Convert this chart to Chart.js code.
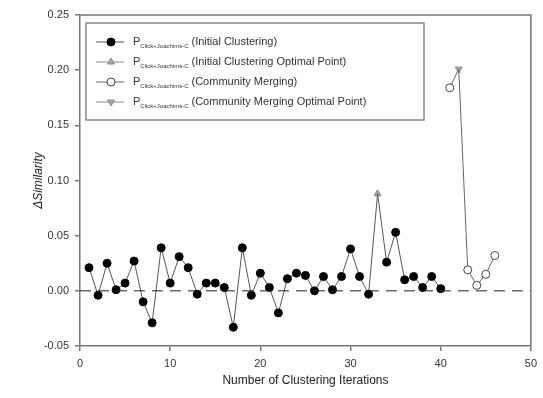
<!DOCTYPE html>
<html>
<head>
<meta charset="utf-8">
<script src="https://cdn.jsdelivr.net/npm/chart.js@4"></script>
<style>
  html, body { margin: 0; padding: 0; background: #fff; }
  #wrap { width: 543px; height: 398px; position: relative; }
</style>
</head>
<body>
<div id="wrap"><canvas id="simChart"></canvas></div>
<script>
// Data
const iterInitial = [1, 2, 3, 4, 5, 6, 7, 8, 9, 10, 11, 12, 13, 14, 15, 16, 17, 18, 19, 20,
                     21, 22, 23, 24, 25, 26, 27, 28, 29, 30, 31, 32, 33, 34, 35, 36, 37, 38, 39, 40];
const simInitial = [0.021, -0.004, 0.025, 0.001, 0.007, 0.027, -0.010, -0.029, 0.039, 0.007,
                    0.031, 0.021, -0.003, 0.007, 0.007, 0.003, -0.033, 0.039, -0.004, 0.016,
                    0.003, -0.020, 0.011, 0.016, 0.014, 0.000, 0.013, 0.001, 0.013, 0.038,
                    0.013, -0.003, 0.088, 0.026, 0.053, 0.010, 0.013, 0.003, 0.013, 0.002];
const optInitialIter = [33];
const optInitialSim = [0.088];

const iterMerge = [41, 42, 43, 44, 45, 46];
const simMerge = [0.184, 0.201, 0.019, 0.005, 0.015, 0.032];
const optMergeIter = [42];
const optMergeSim = [0.201];

const zeroLineX = [0, 50];
const zeroLineY = [0, 0];

const legendNames = ['(Initial Clustering)', '(Initial Clustering Optimal Point)',
                     '(Community Merging)', '(Community Merging Optimal Point)'];

function pts(xs, ys) {
    return xs.map((x, i) => ({ x: x, y: ys[i] }));
}

// frame on top and right of plot area
const framePlugin = {
    id: 'frame',
    beforeDatasetsDraw(chart) {
        const { ctx, chartArea: a } = chart;
        ctx.save();
        ctx.strokeStyle = '#777';
        ctx.lineWidth = 1.5;
        ctx.beginPath();
        ctx.moveTo(a.left, a.top);
        ctx.lineTo(a.right, a.top);
        ctx.lineTo(a.right, a.bottom);
        ctx.stroke();
        ctx.restore();
    }
};

// boxed legend with subscripted P
const legendPlugin = {
    id: 'boxLegend',
    afterDatasetsDraw(chart) {
        const { ctx, chartArea: a } = chart;
        const bx = a.left + 6, by = a.top + 8, bw = 338, bh = 97;
        ctx.save();
        ctx.fillStyle = '#fff';
        ctx.fillRect(bx, by, bw, bh);
        ctx.strokeStyle = '#888';
        ctx.lineWidth = 1.5;
        ctx.strokeRect(bx, by, bw, bh);

        for (let i = 0; i < 4; i++) {
            const ds = chart.data.datasets[i + 1];
            const y = by + 19 + i * 20;
            const x0 = bx + 10;
            ctx.strokeStyle = ds.borderColor;
            ctx.lineWidth = 1;
            ctx.setLineDash([]);
            ctx.beginPath();
            ctx.moveTo(x0, y);
            ctx.lineTo(x0 + 28, y);
            ctx.stroke();
            ctx.fillStyle = ds.pointBackgroundColor;
            ctx.strokeStyle = ds.pointBorderColor;
            Chart.helpers.drawPoint(ctx, {
                pointStyle: ds.pointStyle,
                radius: ds.legendRadius,
                rotation: ds.rotation || 0,
                borderWidth: 1
            }, x0 + 15, y);

            ctx.fillStyle = '#333';
            ctx.textBaseline = 'middle';
            ctx.textAlign = 'left';
            ctx.font = '11px "Liberation Sans", Arial, sans-serif';
            let tx = x0 + 37;
            ctx.fillText('P', tx, y);
            tx += ctx.measureText('P').width;
            ctx.font = '6px "Liberation Sans", Arial, sans-serif';
            ctx.fillText('Click+Joachims-C', tx, y + 4);
            tx += ctx.measureText('Click+Joachims-C').width + 3;
            ctx.font = '11px "Liberation Sans", Arial, sans-serif';
            ctx.fillText(legendNames[i], tx, y);
        }
        ctx.restore();
    }
};

const ctx = document.getElementById('simChart').getContext('2d');
const simChart = new Chart(ctx, {
    type: 'scatter',
    data: {
        datasets: [
            {
                label: 'zero',
                data: pts(zeroLineX, zeroLineY),
                showLine: true,
                borderColor: '#222',
                borderWidth: 1,
                borderDash: [11, 7],
                pointRadius: 0
            },
            {
                label: 'Initial Clustering',
                data: pts(iterInitial, simInitial),
                showLine: true,
                borderColor: '#555',
                borderWidth: 1,
                pointStyle: 'circle',
                pointRadius: c => (iterInitial[c.dataIndex] === optInitialIter[0] ? 0 : 4),
                legendRadius: 4,
                pointBackgroundColor: '#000',
                pointBorderColor: '#000',
                pointBorderWidth: 1
            },
            {
                label: 'Initial Clustering Optimal Point',
                data: pts(optInitialIter, optInitialSim),
                showLine: false,
                borderColor: '#888',
                pointStyle: 'triangle',
                pointRadius: 4,
                legendRadius: 4,
                pointBackgroundColor: '#aaa',
                pointBorderColor: '#888',
                pointBorderWidth: 1
            },
            {
                label: 'Community Merging',
                data: pts(iterMerge, simMerge),
                showLine: true,
                borderColor: '#666',
                borderWidth: 1,
                pointStyle: 'circle',
                pointRadius: c => (iterMerge[c.dataIndex] === optMergeIter[0] ? 0 : 4),
                legendRadius: 4,
                pointBackgroundColor: '#fff',
                pointBorderColor: '#444',
                pointBorderWidth: 1
            },
            {
                label: 'Community Merging Optimal Point',
                data: pts(optMergeIter, optMergeSim),
                showLine: false,
                borderColor: '#888',
                pointStyle: 'triangle',
                rotation: 180,
                pointRotation: 180,
                pointRadius: 4,
                legendRadius: 4,
                pointBackgroundColor: '#aaa',
                pointBorderColor: '#888',
                pointBorderWidth: 1
            }
        ]
    },
    options: {
        responsive: true,
        maintainAspectRatio: false,
        animation: false,
        layout: { padding: { left: 0, right: 7, top: 15, bottom: 0 } },
        plugins: {
            legend: { display: false },
            tooltip: { enabled: false }
        },
        scales: {
            x: {
                type: 'linear',
                min: 0,
                max: 50,
                afterFit: s => { s.height = 52; },
                border: { display: true, color: '#777', width: 1.5 },
                grid: { drawOnChartArea: false, drawTicks: true, tickLength: 5, color: '#777', lineWidth: 1.5 },
                ticks: {
                    stepSize: 10,
                    padding: 6,
                    color: '#333',
                    font: { family: '"Liberation Sans", Arial, sans-serif', size: 11 }
                },
                title: {
                    display: true,
                    text: 'Number of Clustering Iterations',
                    color: '#222',
                    padding: { top: 0, bottom: 10 },
                    font: { family: '"Liberation Sans", Arial, sans-serif', size: 12 }
                }
            },
            y: {
                type: 'linear',
                min: -0.05,
                max: 0.25,
                afterFit: s => { s.width = 80; },
                border: { display: true, color: '#777', width: 1.5 },
                grid: { drawOnChartArea: false, drawTicks: true, tickLength: 5, color: '#777', lineWidth: 1.5 },
                ticks: {
                    stepSize: 0.05,
                    padding: 6,
                    color: '#333',
                    font: { family: '"Liberation Sans", Arial, sans-serif', size: 11 },
                    callback: v => (Math.abs(v) < 1e-9 ? 0 : v).toFixed(2)
                },
                title: {
                    display: true,
                    text: 'ΔSimilarity',
                    color: '#222',
                    padding: { top: 31, bottom: 0 },
                    font: { family: '"Liberation Sans", Arial, sans-serif', size: 12, style: 'italic' }
                }
            }
        }
    },
    plugins: [framePlugin, legendPlugin]
});
</script>
</body>
</html>
